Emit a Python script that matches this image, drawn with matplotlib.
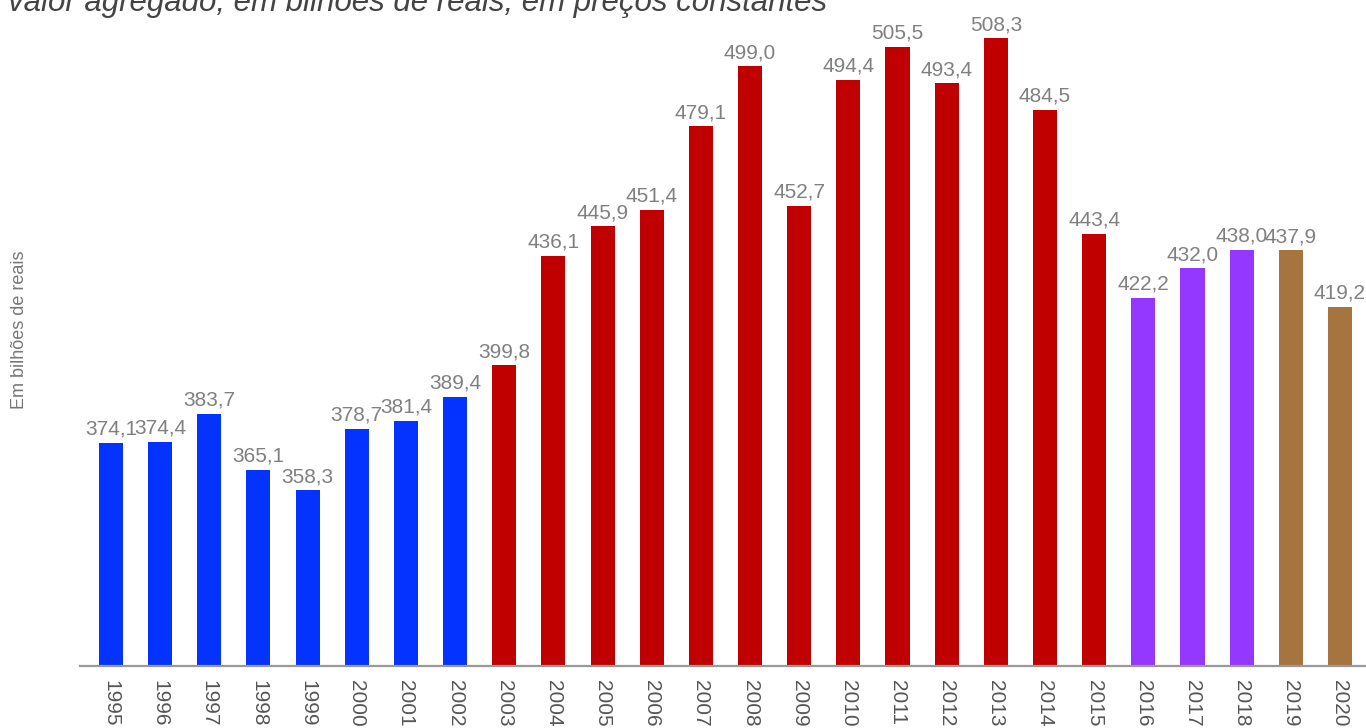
import matplotlib.pyplot as plt

anos = [str(a) for a in range(1995, 2021)]
valores = [374.1, 374.4, 383.7, 365.1, 358.3, 378.7, 381.4, 389.4,
           399.8, 436.1, 445.9, 451.4, 479.1, 499.0, 452.7, 494.4,
           505.5, 493.4, 508.3, 484.5, 443.4,
           422.2, 432.0, 438.0,
           437.9, 419.2]
# cor por periodo de governo
cores = (['#0433ff'] * 8 + ['#c00000'] * 13 + ['#9437ff'] * 3
         + ['#a6743f'] * 2)

plt.rcParams['font.family'] = ['Liberation Sans', 'DejaVu Sans']

fig = plt.figure(figsize=(13.66, 7.28), dpi=100)
ax = fig.add_axes([80 / 1366, 1 - 666 / 728, 1 - 80 / 1366, 666 / 728])

x = range(len(anos))
bars = ax.bar(x, valores, width=0.49, color=cores, bottom=0)

for xi, v in zip(x, valores):
    ax.annotate(f'{v:.1f}'.replace('.', ','), (xi, v),
                xytext=(0, 3), textcoords='offset points',
                ha='center', va='bottom', fontsize=15, color='#808080')

ax.set_ylim(300, 521)
ax.set_xlim(-0.63, 25.53)
ax.set_xticks(list(x))
ax.set_xticklabels(anos, rotation=-90, fontsize=15, color='#555555')
ax.tick_params(axis='x', length=0, pad=10)
ax.set_yticks([])
for s in ['top', 'right', 'left']:
    ax.spines[s].set_visible(False)
ax.spines['bottom'].set_color('#999999')
ax.spines['bottom'].set_linewidth(1.6)
ax.spines['bottom'].set_zorder(5)

fig.text(20 / 1366, 1 - 330 / 728, 'Em bilhões de reais', rotation=90,
         ha='center', va='center', fontsize=13, color='#777777')
fig.text(8 / 1366, 1 - 11 / 728,
         'valor agregado, em bilhões de reais, em preços constantes',
         ha='left', va='baseline', fontsize=22.5, style='italic',
         color='#444444')

fig.savefig('out.png', dpi=100)
